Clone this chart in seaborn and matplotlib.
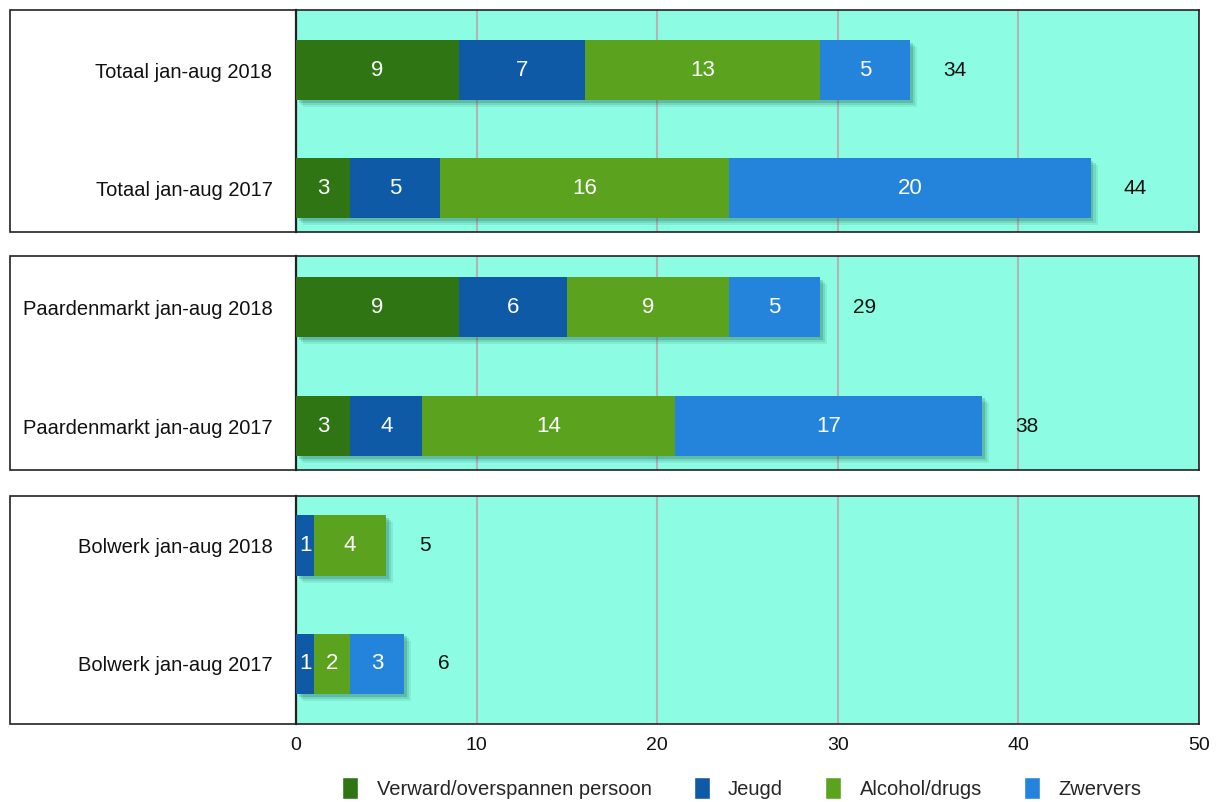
import numpy as np
import pandas as pd
import matplotlib
matplotlib.use("Agg")
import matplotlib.pyplot as plt
import matplotlib.patheffects as pe
from matplotlib.patches import Rectangle
import seaborn as sns

categories = ["Verward/overspannen persoon", "Jeugd", "Alcohol/drugs", "Zwervers"]
colors = ["#2f7514", "#0f5aa6", "#5ba31f", "#2484dc"]

panel_rows = [
    ["Totaal jan-aug 2018", "Totaal jan-aug 2017"],
    ["Paardenmarkt jan-aug 2018", "Paardenmarkt jan-aug 2017"],
    ["Bolwerk jan-aug 2018", "Bolwerk jan-aug 2017"],
]
verward = [[9, 3], [9, 3], [0, 0]]
jeugd = [[7, 5], [6, 4], [1, 1]]
alcohol = [[13, 16], [9, 14], [4, 2]]
zwervers = [[5, 20], [5, 17], [0, 3]]
x_ticks = [0, 10, 20, 30, 40, 50]

sns.set_theme(style="white")
plt.rcParams["font.family"] = ["Liberation Sans", "DejaVu Sans"]

W, H = 1220, 802
fig = plt.figure(figsize=(W / 100, H / 100), dpi=100)

# panel extents in pixels (top, bottom)
panel_px = [(10, 232), (256, 470), (496, 724)]
ylims = [(1.37, -0.51), (1.37, -0.43), (1.51, -0.42)]
x0, x1, xl = 296, 1199, 10
bg = "#8cfde3"

# soft-ish drop shadow built from a few offset layers
shadow = [pe.SimplePatchShadow(offset=(o, -o), shadow_rgbFace="#1d5f4e", alpha=a)
          for o, a in [(5, 0.10), (3.5, 0.15), (2, 0.22)]] + [pe.Normal()]

for p, (rows, (top, bot)) in enumerate(zip(panel_rows, panel_px)):
    # white label box
    fig.add_artist(Rectangle((xl / W, 1 - bot / H), (x0 - xl) / W, (bot - top) / H,
                             transform=fig.transFigure, facecolor="white",
                             edgecolor="#222222", lw=1.2, zorder=0))
    ax = fig.add_axes([x0 / W, 1 - bot / H, (x1 - x0) / W, (bot - top) / H])
    ax.set_facecolor(bg)
    segs = np.array([verward[p], jeugd[p], alcohol[p], zwervers[p]])
    cum = segs.cumsum(axis=0)
    df = pd.DataFrame({"label": rows})
    # draw cumulative bars from longest to shortest so they stack visually
    for k in range(3, -1, -1):
        df["val"] = cum[k]
        n_before = len(ax.patches)
        sns.barplot(data=df, x="val", y="label", orient="h", color=colors[k],
                    width=0.51, saturation=1, linewidth=0, ax=ax, zorder=3)
        if k == 3:
            for patch in ax.patches[n_before:]:
                patch.set_path_effects(shadow)
    for i in range(2):
        start = 0
        for k in range(4):
            v = segs[k][i]
            if v > 0:
                ax.text(start + v / 2, i, str(v), ha="center", va="center",
                        color="white", fontsize=16, zorder=5)
            start += v
        total = cum[3][i]
        ax.annotate(str(total), (total, i), xytext=(24, 0), textcoords="offset points",
                    ha="left", va="center", fontsize=15, color="#111111", zorder=5)
    ax.set_xlim(0, 50)
    ax.set_ylim(*ylims[p])
    ax.set_xticks(x_ticks)
    ax.grid(axis="x", color="#b4b4b4", lw=1.5, zorder=1)
    ax.set_axisbelow(True)
    ax.set_xlabel("")
    ax.set_ylabel("")
    ax.tick_params(axis="y", length=0, pad=17, labelsize=14.5)
    for lbl in ax.get_yticklabels():
        lbl.set_color("#111111")
    for s in ax.spines.values():
        s.set_color("#222222")
        s.set_linewidth(1.2)
    ax.spines["left"].set_linewidth(1.6)
    if p < 2:
        ax.tick_params(axis="x", labelbottom=False, length=0)
    else:
        ax.tick_params(axis="x", length=0, pad=9, labelsize=14, labelcolor="#111111")

handles = [Rectangle((0, 0), 1, 1, facecolor=c) for c in colors]
fig.legend(handles, categories, loc="center", bbox_to_anchor=(0.608, 1 - 788 / H),
           ncol=4, frameon=False, fontsize=14.5, handlelength=0.8, handleheight=1.3,
           columnspacing=2.1, handletextpad=0.9)

fig.savefig("out.png", dpi=100)
